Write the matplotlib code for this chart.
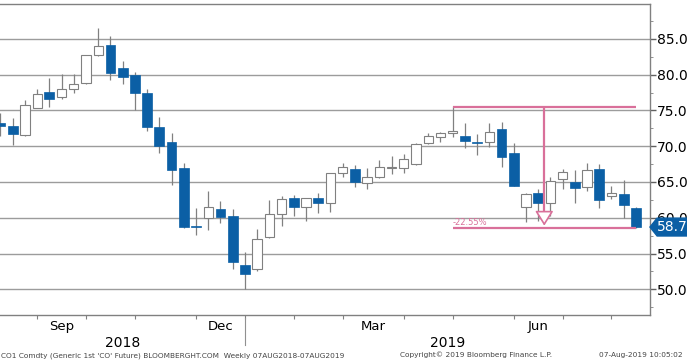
import numpy as np
import pandas as pd
import matplotlib
matplotlib.use("Agg")
import matplotlib.pyplot as plt
from matplotlib.patches import Polygon, FancyArrowPatch
import matplotlib.transforms as mtransforms

# weekly CO1 candles, 07AUG2018 - 07AUG2019
opens = [73.2, 72.9, 71.6, 75.4, 77.6, 76.9, 78.0, 78.9, 82.7, 84.1,
         80.9, 80.0, 77.5, 72.7, 70.6, 66.9, 58.9, 59.9, 61.2, 60.2,
         53.35, 52.9, 57.35, 60.5, 62.7, 61.5, 62.8, 62.0, 66.3, 66.8,
         64.9, 65.65, 67.0, 66.9, 67.5, 70.4, 71.3, 71.8, 71.4, 70.6,
         70.6, 72.45, 69.1, 61.45, 63.5, 62.0, 65.4, 65.0, 64.25, 66.8,
         63.0, 63.3, 61.4]
highs = [74.6, 73.9, 76.5, 78.0, 79.6, 80.1, 80.1, 82.8, 86.6, 85.4,
         81.9, 80.4, 78.0, 74.1, 71.8, 67.6, 61.3, 63.7, 62.3, 61.2,
         55.2, 58.4, 62.5, 63.0, 63.2, 62.8, 63.5, 66.3, 67.7, 67.4,
         66.9, 68.1, 68.6, 68.9, 70.4, 71.9, 72.0, 75.6, 73.2, 71.7,
         73.3, 73.35, 70.4, 63.5, 64.0, 65.65, 66.8, 66.7, 67.6, 67.5,
         64.5, 65.3, 61.5]
lows = [71.4, 70.2, 71.4, 75.3, 75.5, 76.65, 77.4, 78.7, 82.6, 79.3,
        78.7, 75.0, 72.2, 69.1, 64.6, 58.5, 57.6, 58.3, 59.3, 52.9,
        50.0, 52.6, 57.1, 58.85, 60.25, 59.6, 60.6, 60.85, 65.65, 64.25,
        64.0, 65.6, 66.1, 66.3, 67.4, 70.3, 70.6, 71.3, 69.7, 68.8,
        69.9, 67.05, 64.4, 59.45, 59.6, 60.25, 64.0, 62.0, 63.8, 61.3,
        62.6, 59.9, 58.5]
closes = [72.8, 71.7, 75.7, 77.35, 76.65, 78.0, 78.7, 82.7, 84.0, 80.3,
          79.7, 77.5, 72.7, 70.0, 66.7, 58.7, 58.7, 61.55, 60.15, 53.8,
          52.1, 57.0, 60.5, 62.6, 61.55, 62.7, 62.1, 66.2, 67.05, 65.0,
          65.65, 67.1, 67.1, 68.25, 70.3, 71.4, 71.8, 72.1, 70.7, 70.5,
          72.0, 68.55, 64.45, 63.3, 62.0, 65.15, 66.45, 64.2, 66.7, 62.5,
          63.4, 61.8, 58.7]
dates = pd.date_range("2018-08-10", periods=len(closes), freq="7D")

peak_idx, peak_val = 37, 75.55
trough_val = 58.5
drop_label = "-22.55%"
last_price = 58.7

BLUE = "#0b5fa5"
PINK = "#d9709a"
GRID = "#9c9c9c"

fig = plt.figure(figsize=(6.87, 3.61), dpi=100)
ax = fig.add_axes([0.0, 0.1274, 0.9461, 0.8629])

x = np.arange(len(closes))
o = np.array(opens); c = np.array(closes)
h = np.array(highs); l = np.array(lows)
up = c >= o

ax.vlines(x, l, h, color="#808080", lw=0.9, zorder=2)
body_bot = np.minimum(o, c)
body_h = np.maximum(np.abs(c - o), 0.15)
ax.bar(x[up], body_h[up], bottom=body_bot[up], width=0.76,
       color="white", edgecolor="#808080", lw=0.8, zorder=3)
ax.bar(x[~up], body_h[~up], bottom=body_bot[~up], width=0.8,
       color=BLUE, edgecolor=BLUE, lw=0.5, zorder=3)

ax.set_xlim(-0.04, 53.15)
ax.set_ylim(46.4, 89.96)

# high/low measurement
end_x = len(closes) - 1
ax.hlines([peak_val, trough_val], peak_idx, end_x, color=PINK, lw=1.6, zorder=4)
arr_x = 44.5
ax.vlines(arr_x, trough_val + 1.2, peak_val, color=PINK, lw=1.6, zorder=4)
ax.add_patch(FancyArrowPatch((arr_x, trough_val + 1.6), (arr_x, trough_val),
                             arrowstyle="-|>,head_length=0.45,head_width=0.28",
                             mutation_scale=20, fc="white", ec=PINK, lw=1.2, zorder=5))
ax.text(peak_idx, trough_val + 0.2, drop_label, color=PINK, fontsize=6,
        ha="left", va="bottom", zorder=5)

# grid and spines
ax.set_yticks(np.arange(50, 90, 5))
ax.set_yticks(np.arange(47.5, 90, 2.5), minor=True)
ax.yaxis.grid(True, color=GRID, lw=1.0)
ax.set_axisbelow(True)
ax.yaxis.tick_right()
ax.set_yticklabels([f"{v:.1f}" for v in np.arange(50, 90, 5)])
ax.tick_params(axis="y", which="major", direction="out", length=4, width=1,
               color="#606060", labelsize=10, pad=1)
ax.tick_params(axis="y", which="minor", direction="out", length=2, color="#808080")
ax.spines["left"].set_visible(False)
for s in ["top", "right", "bottom"]:
    ax.spines[s].set_color("#808080")
    ax.spines[s].set_linewidth(1.0)

# month ticks at the last week of each month
month_end = [i for i in range(len(dates) - 1) if dates[i].month != dates[i + 1].month]
ax.set_xticks(month_end)
ax.set_xticklabels([])
ax.tick_params(axis="x", direction="out", length=3, color="#808080")

month_names = {9: "Sep", 12: "Dec", 3: "Mar", 6: "Jun"}
for a, b in zip(month_end[:-1], month_end[1:]):
    m = dates[b].month
    if m in month_names:
        ax.text((a + b) / 2, -0.015, month_names[m], transform=ax.get_xaxis_transform(),
                ha="center", va="top", fontsize=9.5)

year_split = next(i for i in month_end if dates[i].year == 2018 and dates[i + 1].year == 2019)
ax.text((ax.get_xlim()[0] + year_split) / 2, -0.066, "2018",
        transform=ax.get_xaxis_transform(), ha="center", va="top", fontsize=10)
ax.text((year_split + ax.get_xlim()[1]) / 2, -0.066, "2019",
        transform=ax.get_xaxis_transform(), ha="center", va="top", fontsize=10)
ax.plot([year_split, year_split], [-0.01, -0.095], transform=ax.get_xaxis_transform(),
        color="#909090", lw=0.8, clip_on=False)

# last price tag
tr = mtransforms.blended_transform_factory(ax.transAxes, ax.transData)
tag = Polygon([[1.0, last_price], [1.011, last_price + 1.25], [1.06, last_price + 1.25],
               [1.06, last_price - 1.25], [1.011, last_price - 1.25]],
              closed=True, transform=tr, color=BLUE, clip_on=False, zorder=6)
ax.add_patch(tag)
ax.text(1.034, last_price, f"{last_price:.1f}", transform=tr, color="white",
        fontsize=10, ha="center", va="center", zorder=7, clip_on=False)

# footer
foot = dict(fontsize=5.3, color="#444444", va="baseline")
fig.text(0.002, 0.011, "CO1 Comdty (Generic 1st 'CO' Future) BLOOMBERGHT.COM  Weekly 07AUG2018-07AUG2019",
         ha="left", **foot)
fig.text(0.693, 0.011, "Copyright\u00a9 2019 Bloomberg Finance L.P.", ha="center", **foot)
fig.text(0.993, 0.011, "07-Aug-2019 10:05:02", ha="right", **foot)

fig.savefig("out.png", dpi=100)
